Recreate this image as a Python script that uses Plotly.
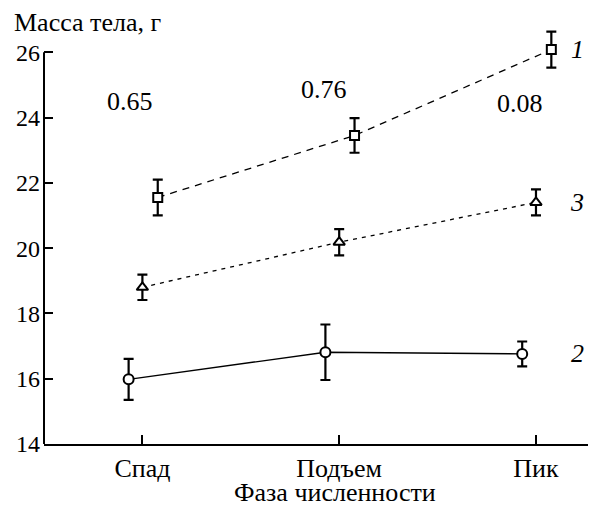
import plotly.graph_objects as go

categories = ["Спад", "Подъем", "Пик"]
s1_mean = [21.55, 23.45, 26.08]
s1_err = [0.55, 0.53, 0.55]
s3_mean = [18.8, 20.18, 21.4]
s3_err = [0.39, 0.4, 0.4]
s2_mean = [15.98, 16.81, 16.76]
s2_err = [0.63, 0.85, 0.38]
p_values = ["0.65", "0.76", "0.08"]
series_labels = ["1", "3", "2"]
y_ticks = [14, 16, 18, 20, 22, 24, 26]

FONT = "Liberation Serif"
idx = list(range(len(categories)))

def shifted(dx):
    return [i + dx for i in idx]

fig = go.Figure()

def add_series(xs, ys, errs, symbol, dash, lw, size):
    fig.add_trace(go.Scatter(
        x=xs, y=ys, mode="lines+markers",
        line=dict(color="black", width=lw, dash=dash),
        marker=dict(symbol=symbol, size=size, color="white",
                    line=dict(color="black", width=2)),
        error_y=dict(type="data", array=errs, visible=True,
                     color="black", thickness=2.2, width=5),
        cliponaxis=False, showlegend=False))

add_series(shifted(0.078), s1_mean, s1_err, "square", "7px,6px", 1.3, 9)
add_series(shifted(0.0), s3_mean, s3_err, "triangle-up", "4px,5px", 1.3, 10)
add_series(shifted(-0.07), s2_mean, s2_err, "circle", "solid", 1.4, 10)

# p-values
p_pos = [(-0.061, 24.49), (0.922, 24.86), (1.918, 24.43)]
for t, (px, py) in zip(p_values, p_pos):
    fig.add_annotation(x=px, y=py, text=t, showarrow=False,
                       font=dict(family=FONT, size=26, color="black"))

# series labels
for t, y in zip(series_labels, [s1_mean[-1], s3_mean[-1], s2_mean[-1]]):
    fig.add_annotation(x=2.21, y=y, text="<i>" + t + "</i>", showarrow=False,
                       font=dict(family=FONT, size=26, color="black"))

# y axis line from 14 to 26
fig.add_shape(type="line", xref="paper", yref="y", x0=0, x1=0, y0=14, y1=26,
              line=dict(color="black", width=2))

# axis titles
fig.add_annotation(xref="paper", yref="paper", x=-0.0585, y=1.0, xanchor="left",
                   yanchor="middle", text="Масса тела, г", showarrow=False,
                   font=dict(family=FONT, size=26, color="black"))
fig.add_annotation(xref="paper", yref="paper", x=0.528, y=-0.115, xanchor="center",
                   yanchor="middle", text="Фаза численности", showarrow=False,
                   font=dict(family=FONT, size=26, color="black"))

fig.update_layout(
    template="none",
    width=588, height=498,
    margin=dict(l=36, r=0, t=14, b=62, autoexpand=False),
    plot_bgcolor="white", paper_bgcolor="white",
    font=dict(family=FONT, size=26, color="black"),
    xaxis=dict(range=[-0.5, 2.305], tickvals=idx, ticktext=categories,
               tickfont=dict(family=FONT, size=26, color="black"),
               showline=True, linecolor="black", linewidth=2, automargin=False,
               ticks="inside", ticklen=9, tickwidth=2, tickcolor="black",
               showgrid=False, zeroline=False),
    yaxis=dict(range=[14, 26.925], tickvals=y_ticks,
               tickfont=dict(family=FONT, size=24, color="black"), automargin=False,
               showline=False, ticks="inside", ticklen=9, tickwidth=2,
               tickcolor="black", showgrid=False, zeroline=False,
               ticklabelstandoff=3),
)

fig.write_html("out.html")
